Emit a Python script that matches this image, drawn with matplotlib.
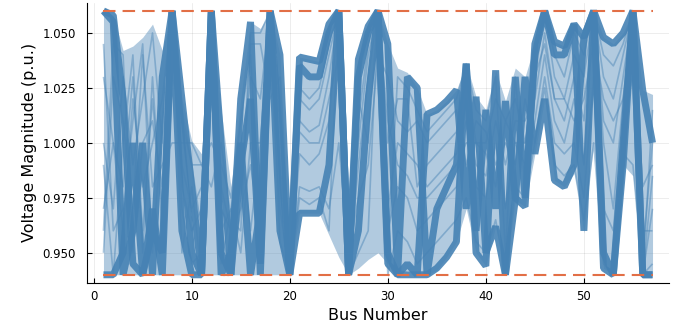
import numpy as np
import matplotlib.pyplot as plt

# bus voltage magnitudes (p.u.)
bus = np.arange(1, 58)
v_max, v_min = 1.06, 0.94

# outer envelope of all the samples
v_upper = [1.060, 1.058, 1.042, 1.044, 1.048, 1.054, 1.042, 1.060, 1.020, 1.001,
           0.995, 1.060, 1.015, 0.980, 1.020, 1.055, 1.052, 1.060, 1.040, 0.950,
           1.039, 1.038, 1.037, 1.054, 1.060, 0.960, 1.038, 1.053, 1.060, 1.045,
           1.034, 1.032, 1.025, 1.013, 1.015, 1.019, 1.024, 1.036, 1.021, 1.015,
           1.033, 1.019, 1.034, 1.030, 1.045, 1.060, 1.046, 1.044, 1.054, 1.048,
           1.060, 1.048, 1.045, 1.050, 1.060, 1.024, 1.022]
v_lower = [0.940, 0.940, 0.940, 0.940, 0.940, 0.940, 0.940, 0.940, 0.940, 0.940,
           0.940, 0.940, 0.940, 0.940, 0.940, 0.940, 0.940, 0.940, 0.940, 0.940,
           0.968, 0.968, 0.968, 0.958, 0.948, 0.940, 0.943, 0.947, 0.950, 0.945,
           0.940, 0.942, 0.940, 0.940, 0.942, 0.948, 0.955, 0.970, 0.950, 0.944,
           0.962, 0.940, 0.974, 0.971, 0.995, 1.020, 0.983, 0.980, 0.986, 0.959,
           1.000, 0.943, 0.940, 0.990, 0.985, 0.940, 0.940]

# dense bundles of samples (the dark bands)
bundle_a = [1.060, 1.058, 1.020, 0.945, 0.940, 0.960, 0.950, 1.060, 1.000, 0.950,
            0.940, 1.060, 0.950, 0.940, 0.990, 1.020, 0.945, 1.060, 1.000, 0.940,
            1.039, 1.038, 1.037, 1.054, 1.060, 0.940, 1.030, 1.050, 1.060, 0.950,
            0.940, 0.940, 0.940, 0.940, 0.943, 0.948, 0.955, 1.036, 0.950, 0.944,
            1.033, 0.940, 1.030, 0.975, 1.040, 1.060, 1.040, 1.040, 1.054, 0.960,
            1.060, 0.943, 0.940, 1.000, 1.060, 0.940, 0.940]
bundle_b = [0.940, 0.940, 0.950, 1.000, 0.940, 0.970, 0.940, 1.060, 0.960, 0.940,
            0.940, 1.060, 0.940, 0.950, 1.000, 0.940, 0.970, 1.060, 0.960, 0.940,
            0.968, 0.968, 0.968, 0.990, 1.060, 0.940, 0.960, 1.020, 1.060, 0.945,
            0.940, 0.945, 0.940, 1.013, 1.015, 1.019, 1.024, 0.970, 1.021, 0.950,
            0.962, 0.940, 0.974, 1.030, 0.995, 1.020, 0.983, 0.980, 0.990, 1.048,
            1.060, 0.950, 0.940, 0.990, 1.060, 0.940, 0.940]
bundle_e = [1.060, 1.055, 0.940, 0.960, 1.000, 0.940, 1.030, 1.060, 1.020, 0.980,
            0.940, 1.060, 1.000, 0.940, 1.020, 1.055, 0.940, 1.060, 1.040, 0.940,
            1.035, 1.030, 1.030, 1.050, 1.060, 0.940, 1.038, 1.053, 1.060, 1.045,
            0.940, 1.030, 1.025, 0.940, 0.970, 0.980, 0.990, 1.036, 0.960, 1.015,
            0.970, 1.019, 0.975, 0.971, 1.045, 1.060, 1.046, 1.044, 1.054, 1.048,
            1.060, 1.048, 1.045, 1.050, 1.060, 1.024, 1.000]

# single samples inside the spread
sample_c = [1.000, 0.970, 1.030, 0.990, 1.020, 1.050, 1.000, 1.060, 1.010, 0.990,
            0.960, 1.060, 0.980, 0.960, 0.970, 1.050, 1.050, 1.060, 1.020, 0.940,
            1.020, 1.015, 1.020, 1.040, 1.060, 0.950, 1.000, 1.040, 1.060, 1.000,
            1.020, 1.020, 0.980, 0.990, 0.995, 1.000, 1.005, 1.030, 1.000, 1.000,
            1.020, 1.010, 1.020, 1.000, 1.030, 1.060, 1.030, 1.020, 1.040, 1.030,
            1.060, 1.030, 1.020, 1.040, 1.060, 0.950, 1.000]
sample_d = [0.970, 1.000, 0.960, 1.020, 0.980, 1.000, 1.020, 1.060, 0.980, 0.960,
            0.970, 1.030, 0.960, 0.970, 0.950, 1.000, 1.000, 1.060, 0.980, 0.940,
            0.995, 0.990, 0.995, 1.010, 1.060, 0.940, 1.020, 1.000, 1.060, 0.960,
            0.980, 0.975, 0.960, 0.965, 0.970, 0.975, 0.980, 1.020, 0.980, 0.975,
            1.000, 0.970, 1.000, 0.990, 1.010, 1.040, 1.010, 1.000, 1.020, 0.990,
            1.060, 1.000, 0.970, 1.020, 1.060, 0.940, 0.970]
sample_g = [1.030, 1.000, 0.980, 1.030, 0.960, 1.020, 0.970, 1.060, 0.990, 0.970,
            0.980, 1.060, 0.970, 0.960, 0.980, 1.030, 1.020, 1.060, 1.010, 0.940,
            1.010, 1.005, 1.008, 1.030, 1.060, 0.940, 0.990, 1.030, 1.060, 0.970,
            1.000, 0.995, 0.990, 0.980, 0.985, 0.990, 0.995, 1.010, 0.990, 0.985,
            1.010, 0.990, 1.010, 1.010, 1.020, 1.050, 1.020, 1.010, 1.030, 1.010,
            1.060, 1.010, 1.000, 1.030, 1.060, 0.940, 0.985]
sample_h = [0.950, 1.030, 1.010, 0.970, 1.040, 0.980, 0.990, 1.000, 1.000, 1.000,
            0.990, 1.000, 0.990, 0.975, 1.010, 1.040, 0.960, 1.040, 0.970, 0.940,
            0.980, 0.978, 0.980, 0.970, 1.000, 0.950, 0.975, 0.990, 1.040, 1.030,
            1.010, 1.005, 1.010, 1.000, 1.005, 1.010, 1.015, 0.990, 1.010, 1.005,
            0.990, 1.000, 0.990, 1.020, 1.000, 1.030, 1.000, 0.995, 1.000, 0.975,
            1.030, 0.970, 0.960, 1.010, 1.030, 0.960, 0.960]
sample_i = [0.990, 0.940, 1.000, 1.040, 0.950, 1.030, 0.960, 1.060, 0.970, 0.945,
            0.950, 1.060, 0.945, 0.970, 1.000, 0.960, 1.000, 1.060, 0.990, 0.940,
            1.025, 1.020, 1.025, 1.045, 1.060, 0.940, 1.010, 1.045, 1.060, 0.950,
            1.030, 1.025, 1.015, 1.005, 1.010, 1.015, 1.020, 1.036, 1.015, 1.010,
            1.030, 0.950, 1.030, 0.980, 1.040, 1.060, 1.040, 1.030, 1.050, 1.040,
            1.060, 1.040, 1.035, 1.045, 1.060, 0.940, 1.015]
sample_j = [1.045, 0.960, 0.970, 1.010, 1.045, 0.950, 1.010, 1.060, 0.950, 0.980,
            0.940, 1.060, 0.960, 0.940, 0.970, 0.990, 0.960, 1.060, 0.955, 0.940,
            0.975, 0.972, 0.975, 0.960, 1.060, 0.940, 0.950, 0.960, 1.060, 0.940,
            0.960, 0.955, 0.945, 0.950, 0.955, 0.960, 0.965, 0.975, 0.955, 0.950,
            0.965, 0.940, 0.980, 0.975, 1.000, 1.025, 0.990, 0.985, 0.990, 0.965,
            1.000, 0.945, 0.940, 0.995, 0.990, 0.940, 0.945]
sample_k = [0.960, 1.045, 1.040, 0.950, 1.000, 1.010, 0.980, 1.030, 1.015, 0.990,
            0.990, 0.980, 1.000, 0.965, 0.960, 1.045, 1.045, 1.020, 1.030, 0.945,
            1.005, 1.000, 1.000, 1.020, 1.040, 0.955, 1.030, 1.050, 1.055, 1.010,
            0.990, 0.985, 0.975, 0.975, 0.980, 0.985, 0.990, 1.000, 1.000, 0.995,
            0.980, 1.010, 1.000, 1.000, 1.030, 1.045, 1.020, 1.020, 1.010, 1.020,
            1.045, 1.020, 1.010, 1.020, 1.050, 0.980, 0.990]

blue = '#4682B4'
orange = '#E26F46'

fig = plt.figure(figsize=(6.86, 3.31), dpi=100)
ax = fig.add_axes([87 / 686, 48.3 / 331, 582 / 686, 279.7 / 331])

ax.fill_between(bus, v_lower, v_upper, color=blue, alpha=0.42, lw=0)
for s in [sample_c, sample_d, sample_g, sample_h, sample_i, sample_j, sample_k]:
    ax.plot(bus, s, color=blue, alpha=0.45, lw=1.2, solid_capstyle='butt')
for b in [bundle_a, bundle_b, bundle_e]:
    ax.plot(bus, b, color=blue, alpha=0.9, lw=5,
            solid_joinstyle='bevel', solid_capstyle='butt')

# voltage limits
for lim in [v_max, v_min]:
    ax.plot([bus[0], bus[-1]], [lim, lim], color=orange, lw=1.5,
            dashes=(6, 3.4), zorder=5)

ax.set_xlim(-0.68, 58.68)
ax.set_ylim(0.9364, 1.0636)
ax.set_xticks([0, 10, 20, 30, 40, 50])
ax.set_yticks([0.95, 0.975, 1.0, 1.025, 1.05])
ax.set_yticklabels(['0.950', '0.975', '1.000', '1.025', '1.050'])
ax.tick_params(direction='in', length=3.5, width=0.8, labelsize=8.5, color='black')
ax.tick_params(axis='y', pad=8)
ax.tick_params(axis='x', pad=5)
ax.grid(True, color='black', alpha=0.1, lw=0.5)
ax.set_axisbelow(True)
for side in ['top', 'right']:
    ax.spines[side].set_visible(False)
ax.set_xlabel('Bus Number', fontsize=11.5)
ax.set_ylabel('Voltage Magnitude (p.u.)', fontsize=11.5)

fig.savefig('out.png', dpi=100)
